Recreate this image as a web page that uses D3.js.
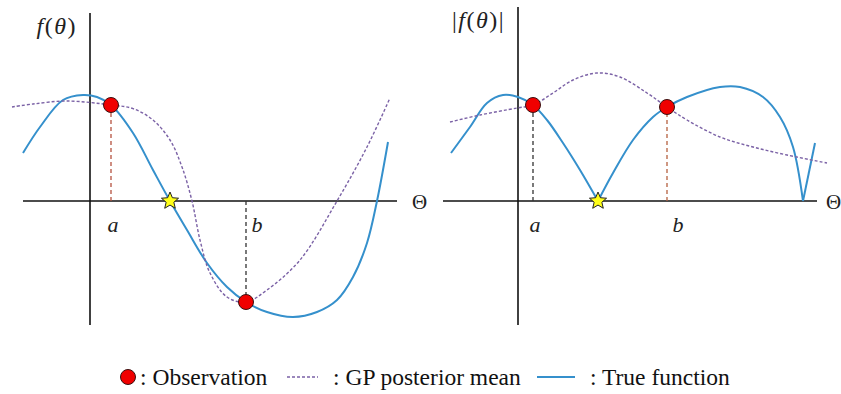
<!DOCTYPE html>
<html>
<head>
<meta charset="utf-8">
<script src="https://cdn.jsdelivr.net/npm/d3@7"></script>
<style>
  body { margin: 0; background: #fff; }
  svg { display: block; }
  text { font-family: "Liberation Serif", "DejaVu Serif", serif; }
</style>
</head>
<body>
<div id="chart"></div>
<script>
// left panel: f(theta)
const trueLeft = [
  [-3.35, 2.4], [-2.5, 3.7], [-1.35, 5.05], [-0.35, 5.3], [0.35, 5.2], [1.05, 4.8],
  [2.15, 3.4], [3.15, 1.55], [4.0, 0], [4.85, -1.45], [5.85, -3.1], [6.85, -4.3],
  [7.8, -5.05], [8.85, -5.55], [10.15, -5.8], [11.35, -5.55], [12.35, -4.95],
  [13.15, -3.8], [13.85, -2.1], [14.35, 0], [14.9, 2.95]
];
const gpLeft = [
  [-3.9, 4.7], [-2.85, 4.85], [-1.15, 5.0], [1.05, 4.8], [2.15, 4.62], [3.15, 4.05],
  [4.0, 3.05], [4.6, 1.7], [5.1, 0], [5.5, -1.95], [6.0, -3.6], [6.85, -4.8],
  [7.8, -5.05], [8.85, -4.45], [10.5, -2.95], [12.35, 0], [13.85, 2.7], [15.0, 5.15]
];
const obsLeft = [["a", 1.05, 4.8], ["b", 7.8, -5.05]];
const starLeft = [4.0, 0];

// right panel: |f(theta)|
const trueRight = [
  [-3.35, 2.4], [-2.4, 3.7], [-1.55, 4.9], [-0.75, 5.3], [0, 5.2], [0.75, 4.8],
  [1.45, 4.05], [2.25, 2.9], [3.1, 1.55], [4.0, 0], [4.75, 1.4], [5.75, 3.05],
  [6.75, 4.2], [7.45, 4.7], [8.45, 5.2], [10.1, 5.7], [11.1, 5.7], [12.25, 5.2],
  [13.1, 4.2], [13.75, 2.7], [14.25, 0], [14.85, 2.9]
];
const gpRight = [
  [-3.4, 3.95], [-1.9, 4.3], [-0.05, 4.65], [0.75, 4.8], [1.75, 5.4], [2.75, 6.05],
  [3.95, 6.4], [5.1, 6.2], [6.45, 5.4], [7.45, 4.7], [8.45, 4.05], [10.1, 3.2],
  [11.75, 2.7], [13.45, 2.3], [15.45, 1.9]
];
const obsRight = [["a", 0.75, 4.8], ["b", 7.45, 4.7]];
const starRight = [4.0, 0];

const legendItems = ["Observation", "GP posterior mean", "True function"];

const width = 841, height = 394;
const blue = "#3590cc", purple = "#7b62a6";

const svg = d3.select("#chart").append("svg")
  .attr("width", width).attr("height", height);

const line = d3.line()
  .x(d => d[0]).y(d => d[1])
  .curve(d3.curveCatmullRom.alpha(0.5));

// split at interior zeros so |f| keeps its sharp corners
const splitAtZeros = (pts) => {
  const parts = [];
  let cur = [];
  pts.forEach((p, i) => {
    cur.push(p);
    if (p[1] === 0 && i > 0 && i < pts.length - 1) {
      parts.push(cur);
      cur = [p];
    }
  });
  parts.push(cur);
  return parts;
};

const drawStar = (g, cx, cy, r) => {
  const pts = d3.range(10).map(i => {
    const a = -Math.PI / 2 + i * Math.PI / 5;
    const rr = i % 2 === 0 ? r : r * 0.45;
    return [cx + rr * Math.cos(a), cy + rr * Math.sin(a)];
  });
  g.append("path")
    .attr("d", "M" + pts.join("L") + "Z")
    .attr("fill", "#ffff1a").attr("stroke", "#222").attr("stroke-width", 1);
};

const drawPanel = ({ offset, trueFn, gp, obs, star, yTop, xLeft, xRight, thetaDx, split, label, dropColors }) => {
  const x = d3.scaleLinear().domain([-4.5, 16]).range([offset, offset + 410]);
  const y = d3.scaleLinear().domain([-6.2, 9.4]).range([325, 13]);
  const g = svg.append("g");

  // axes
  g.append("line")
    .attr("x1", x(xLeft)).attr("x2", x(xRight)).attr("y1", y(0)).attr("y2", y(0))
    .attr("stroke", "#111").attr("stroke-width", 1.6);
  g.append("line")
    .attr("x1", x(0)).attr("x2", x(0)).attr("y1", y(yTop)).attr("y2", y(-6.2))
    .attr("stroke", "#111").attr("stroke-width", 1.6);
  g.append("text")
    .attr("x", x(xRight) + thetaDx).attr("y", y(0) + 8)
    .attr("font-size", 21).attr("fill", "#222").text("Θ");

  // drop lines
  obs.forEach((o, i) => {
    g.append("line")
      .attr("x1", x(o[1])).attr("x2", x(o[1]))
      .attr("y1", y(0)).attr("y2", y(o[2]))
      .attr("stroke", dropColors[i]).attr("stroke-width", 1.3)
      .attr("stroke-dasharray", "4,3");
    g.append("text")
      .attr("x", x(o[1]) + (o[0] === "b" ? 11 : 2)).attr("y", y(0) + 31)
      .attr("text-anchor", "middle").attr("font-size", 22)
      .attr("font-style", "italic").attr("fill", "#222").text(o[0]);
  });

  // true function
  const pieces = split ? splitAtZeros(trueFn) : [trueFn];
  pieces.forEach(p => {
    g.append("path")
      .attr("d", line(p.map(d => [x(d[0]), y(d[1])])))
      .attr("fill", "none").attr("stroke", blue).attr("stroke-width", 2);
  });

  // GP mean
  g.append("path")
    .attr("d", line(gp.map(d => [x(d[0]), y(d[1])])))
    .attr("fill", "none").attr("stroke", purple).attr("stroke-width", 1.4)
    .attr("stroke-dasharray", "3,2");

  // observations
  g.selectAll("circle.obs").data(obs).join("circle")
    .attr("class", "obs")
    .attr("cx", d => x(d[1])).attr("cy", d => y(d[2])).attr("r", 7.5)
    .attr("fill", "#f00000").attr("stroke", "#3a1010").attr("stroke-width", 1);

  drawStar(g, x(star[0]), y(star[1]), 9);

  // y label
  const t = g.append("text")
    .attr("x", x(0) - 13).attr("y", y(yTop) + 21)
    .attr("text-anchor", "end").attr("font-size", 24)
    .attr("letter-spacing", 1.5).attr("fill", "#222");
  if (label === "abs") t.append("tspan").text("|");
  t.append("tspan").attr("font-style", "italic").text("f");
  t.append("tspan").text("(");
  t.append("tspan").attr("font-style", "italic").text("θ");
  t.append("tspan").text(")");
  if (label === "abs") t.append("tspan").text("|");
};

drawPanel({
  offset: 0, trueFn: trueLeft, gp: gpLeft, obs: obsLeft, star: starLeft,
  yTop: 9.4, xLeft: -3.35, xRight: 15.35, thetaDx: 15, split: false, label: "plain",
  dropColors: ["#b5523f", "#333"]
});
drawPanel({
  offset: 428, trueFn: trueRight, gp: gpRight, obs: obsRight, star: starRight,
  yTop: 9.7, xLeft: -3.75, xRight: 14.95, thetaDx: 9, split: true, label: "abs",
  dropColors: ["#333", "#b5603f"]
});

// legend
const lg = svg.append("g").attr("transform", "translate(0,377)");
lg.append("circle").attr("cx", 128).attr("cy", 0).attr("r", 7.5)
  .attr("fill", "#f00000").attr("stroke", "#3a1010");
lg.append("text").attr("x", 140).attr("y", 8).attr("font-size", 23.5)
  .attr("fill", "#111").text(": " + legendItems[0]);
lg.append("line").attr("x1", 287).attr("x2", 318).attr("y1", 0).attr("y2", 0)
  .attr("stroke", purple).attr("stroke-width", 1.4).attr("stroke-dasharray", "3,2");
lg.append("text").attr("x", 333).attr("y", 8).attr("font-size", 23.5)
  .attr("fill", "#111").text(": " + legendItems[1]);
lg.append("line").attr("x1", 537).attr("x2", 575).attr("y1", 0).attr("y2", 0)
  .attr("stroke", blue).attr("stroke-width", 2);
lg.append("text").attr("x", 590).attr("y", 8).attr("font-size", 23.5)
  .attr("fill", "#111").text(": " + legendItems[2]);
</script>
</body>
</html>
